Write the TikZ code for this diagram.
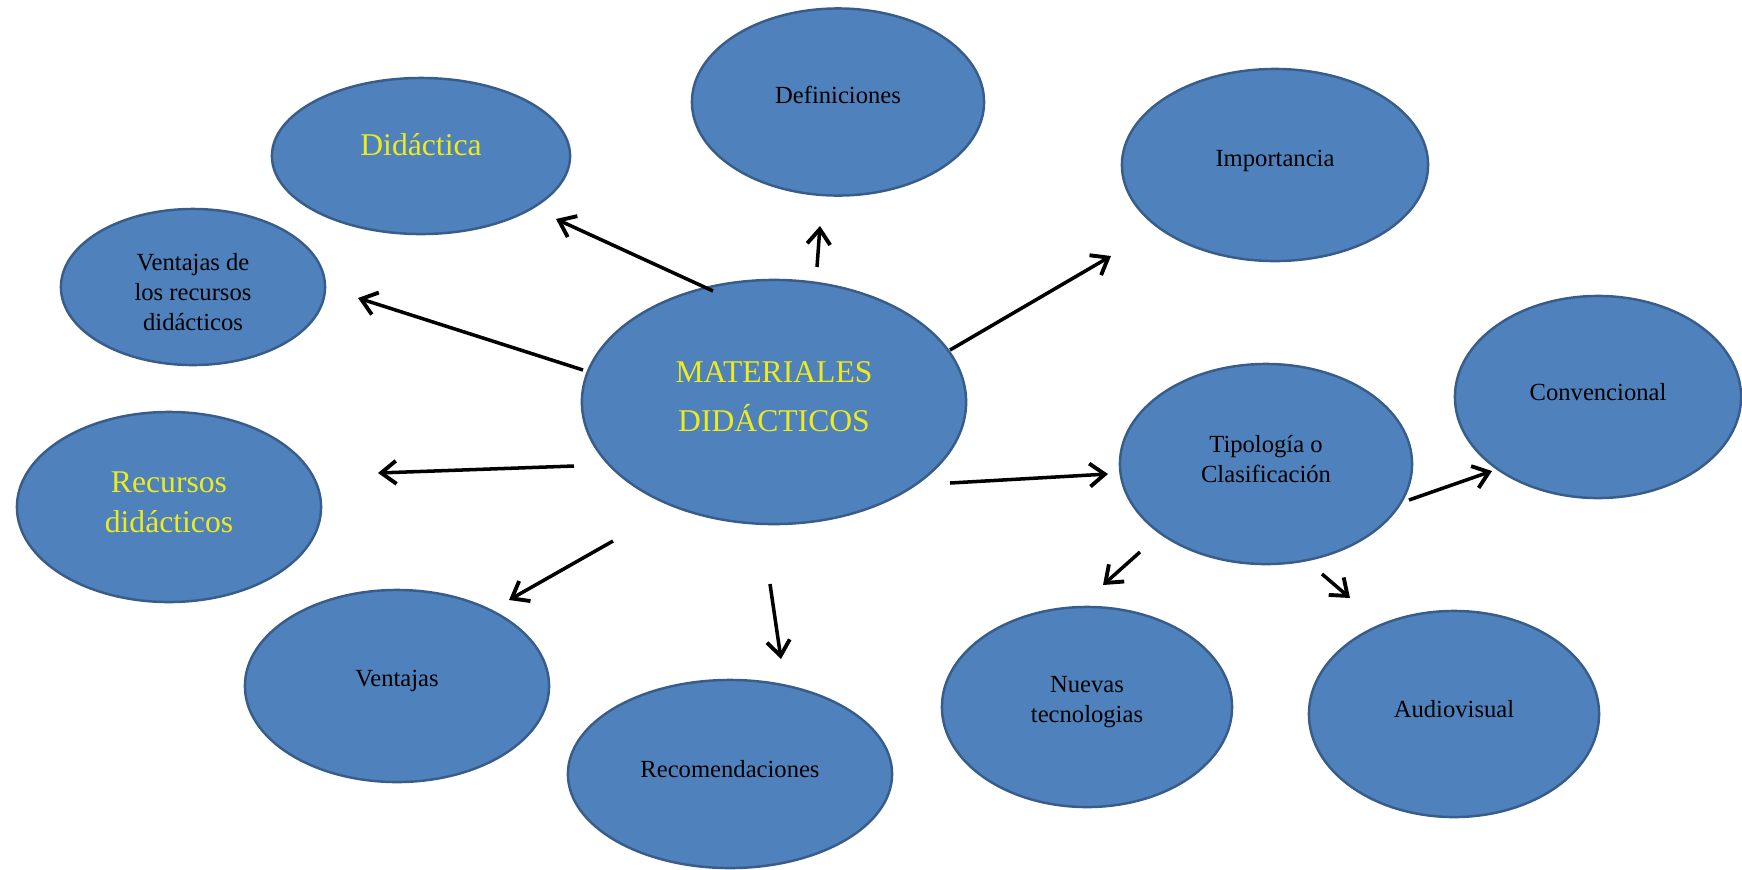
\documentclass[tikz,border=0pt]{standalone}
\usepackage{fontspec}
\setmainfont{Liberation Serif}
\usetikzlibrary{shapes.geometric,arrows.meta}
\definecolor{azul}{RGB}{79,129,189}
\definecolor{borde}{RGB}{56,93,138}
\definecolor{amarillo}{RGB}{235,235,30}
\tikzset{
  burbuja/.style={ellipse, draw=borde, line width=0.7pt, fill=azul, inner sep=0pt},
  texto/.style={align=center, font=\fontsize{7}{8.5}\selectfont},
  titulo/.style={texto, text=amarillo, font=\fontsize{9}{11.4}\selectfont},
  flecha/.style={line width=1pt, -{Straight Barb[length=1.5mm,width=2.3mm,line width=1.1pt]}}
}
\begin{document}
\begin{tikzpicture}[x=0.01cm, y=-0.01cm]
    \useasboundingbox (0,0) rectangle (1742,869);
    % Nodo central
    \node[burbuja, minimum width=3.84cm, minimum height=2.44cm] (mat) at (774,402) {};
    \node[titulo, font=\fontsize{9}{14}\selectfont] (mat-t) at ([yshift=0.05cm]mat) {MATERIALES\\DIDÁCTICOS};
    % Nodos alrededor
    \node[burbuja, minimum width=2.98cm, minimum height=1.56cm] (did) at (421,156) {};
    \node[titulo] (did-t) at ([yshift=0.11cm]did) {Didáctica};
    \node[burbuja, minimum width=2.92cm, minimum height=1.87cm] (def) at (838,102) {};
    \node[texto] (def-t) at ([yshift=0.07cm]def) {Definiciones};
    \node[burbuja, minimum width=3.06cm, minimum height=1.92cm] (imp) at (1275,165) {};
    \node[texto] (imp-t) at ([yshift=0.04cm]imp) {Importancia};
    \node[burbuja, minimum width=2.64cm, minimum height=1.56cm] (vrd) at (193,287) {};
    \node[texto] (vrd-t) at ([yshift=-0.05cm]vrd) {Ventajas de\\los recursos\\didácticos};
    \node[burbuja, minimum width=3.04cm, minimum height=1.90cm] (rec) at (169,507) {};
    \node[titulo] (rec-t) at ([yshift=0.05cm]rec) {Recursos\\didácticos};
    \node[burbuja, minimum width=3.04cm, minimum height=1.92cm] (ven) at (397,686) {};
    \node[texto] (ven-t) at ([yshift=0.05cm]ven) {Ventajas};
    \node[burbuja, minimum width=3.24cm, minimum height=1.88cm] (recom) at (730,774) {};
    \node[texto] (recom-t) at ([yshift=0.05cm]recom) {Recomendaciones};
    \node[burbuja, minimum width=2.92cm, minimum height=2.00cm] (tip) at (1266,464) {};
    \node[texto] (tip-t) at ([yshift=0.05cm]tip) {Tipología o\\Clasificación};
    % Tipos
    \node[burbuja, minimum width=2.86cm, minimum height=2.02cm] (conv) at (1598,397) {};
    \node[texto] (conv-t) at ([yshift=0.05cm]conv) {Convencional};
    \node[burbuja, minimum width=2.90cm, minimum height=2.00cm] (nue) at (1087,707) {};
    \node[texto] (nue-t) at ([yshift=0.05cm]nue) {Nuevas\\tecnologias};
    \node[burbuja, minimum width=2.90cm, minimum height=2.06cm] (aud) at (1454,714) {};
    \node[texto] (aud-t) at ([yshift=0.05cm]aud) {Audiovisual};
    % Puntas de las flechas
    \coordinate (a1) at (713,291);  \coordinate (b1) at (556,219);
    \coordinate (a2) at (817,267);  \coordinate (b2) at (820,226);
    \coordinate (a3) at (950,350);  \coordinate (b3) at (1111,256);
    \coordinate (a4) at (583,370);  \coordinate (b4) at (358,298);
    \coordinate (a5) at (574,466);  \coordinate (b5) at (378,473);
    \coordinate (a6) at (613,541);  \coordinate (b6) at (509,600);
    \coordinate (a7) at (770,584);  \coordinate (b7) at (781,659);
    \coordinate (a8) at (950,483);  \coordinate (b8) at (1108,474);
    \coordinate (a9) at (1409,500); \coordinate (b9) at (1492,471);
    \coordinate (a10) at (1140,552); \coordinate (b10) at (1103,585);
    \coordinate (a11) at (1322,574); \coordinate (b11) at (1350,598);
    % Flechas
    \draw[flecha] (a1) -- (b1);
    \draw[flecha] (a2) -- (b2);
    \draw[flecha] (a3) -- (b3);
    \draw[flecha] (a4) -- (b4);
    \draw[flecha] (a5) -- (b5);
    \draw[flecha] (a6) -- (b6);
    \draw[flecha] (a7) -- (b7);
    \draw[flecha] (a8) -- (b8);
    \draw[flecha] (a9) -- (b9);
    \draw[flecha] (a10) -- (b10);
    \draw[flecha] (a11) -- (b11);
\end{tikzpicture}
\end{document}
